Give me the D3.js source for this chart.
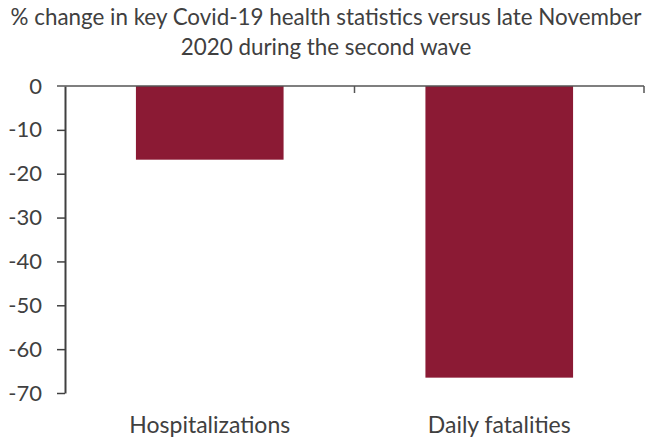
<!DOCTYPE html>
<html>
<head>
<meta charset="utf-8">
<script src="https://cdn.jsdelivr.net/npm/d3@7"></script>
<style>
    body { margin: 0; background: #fff; }
    text { font-family: Lato, "Open Sans", sans-serif; fill: #404040; }
</style>
</head>
<body>
<div id="chart"></div>
<script>
// data
const categories = ["Hospitalizations", "Daily fatalities"];
const values = [-16.8, -66.5];
const yTicks = [0, -10, -20, -30, -40, -50, -60, -70];
const titleLines = ["% change in key Covid-19 health statistics versus late November", "2020 during the second wave"];

const width = 652, height = 441;
const margin = {top: 86, right: 8, bottom: 48, left: 65};
const innerWidth = width - margin.left - margin.right;
const innerHeight = height - margin.top - margin.bottom;

const svg = d3.select("#chart")
    .append("svg")
    .attr("width", width)
    .attr("height", height);

// title
svg.append("text")
    .attr("x", width / 2)
    .attr("y", 25)
    .attr("text-anchor", "middle")
    .style("font-size", "22.4px")
    .selectAll("tspan")
    .data(titleLines)
    .enter()
    .append("tspan")
    .attr("x", width / 2)
    .attr("dy", (d, i) => i === 0 ? 0 : 30)
    .text(d => d);

const g = svg.append("g")
    .attr("transform", `translate(${margin.left},${margin.top})`);

const x = d3.scaleBand().domain(categories).range([0, innerWidth]).paddingInner(0.49).paddingOuter(0.245);
const y = d3.scaleLinear().domain([0, -70]).range([0, innerHeight]);

// bars
g.selectAll("rect")
    .data(values)
    .enter()
    .append("rect")
    .attr("x", (d, i) => x(categories[i]))
    .attr("y", d => y(0))
    .attr("width", x.bandwidth())
    .attr("height", d => y(d) - y(0))
    .attr("fill", "#8b1a34");

// y axis (plain hyphen for negatives, like the original)
const yAxisG = g.append("g")
    .call(d3.axisLeft(y).tickValues(yTicks).tickFormat(d => String(d)).tickSize(8).tickPadding(15).tickSizeOuter(0));
yAxisG.select(".domain").attr("stroke", "#404040").attr("stroke-width", 2);
yAxisG.selectAll(".tick line").attr("stroke", "#404040").attr("stroke-width", 1.5);
yAxisG.selectAll(".tick text").style("font-size", "22px").attr("fill", "#404040");
yAxisG.selectAll(".tick").filter(d => d === 0).select("line").remove();

// zero line with category separators
const xLine = d3.scaleLinear().domain([0, categories.length]).range([0, innerWidth]);
g.append("line")
    .attr("x1", -8)
    .attr("x2", innerWidth)
    .attr("y1", y(0))
    .attr("y2", y(0))
    .attr("stroke", "#555")
    .attr("stroke-width", 1.5);
g.selectAll(".sep")
    .data(d3.range(1, categories.length + 1))
    .enter()
    .append("line")
    .attr("class", "sep")
    .attr("x1", d => xLine(d))
    .attr("x2", d => xLine(d))
    .attr("y1", y(0))
    .attr("y2", y(0) + 7)
    .attr("stroke", "#555")
    .attr("stroke-width", 1.5);

// category labels
g.selectAll(".cat")
    .data(categories)
    .enter()
    .append("text")
    .attr("class", "cat")
    .attr("x", d => x(d) + x.bandwidth() / 2)
    .attr("y", innerHeight + 40)
    .attr("text-anchor", "middle")
    .style("font-size", "23px")
    .text(d => d);
</script>
</body>
</html>
